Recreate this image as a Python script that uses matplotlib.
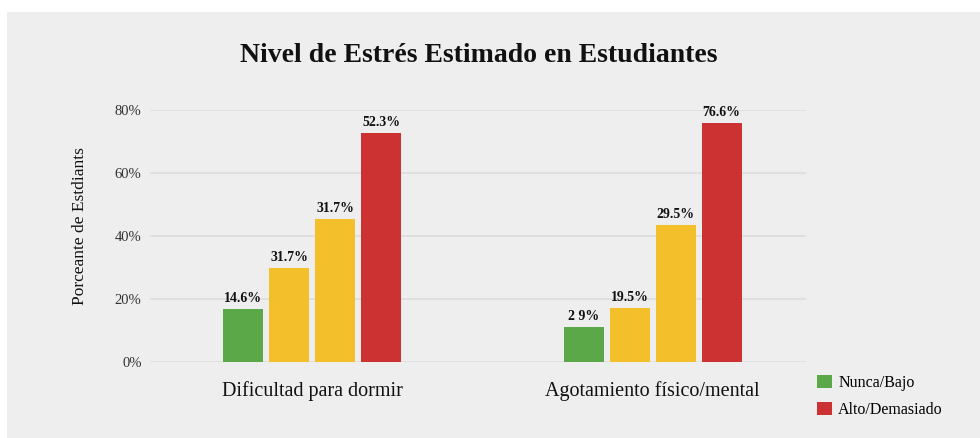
import numpy as np
import matplotlib.pyplot as plt
from matplotlib.patches import Rectangle, Patch

plt.rcParams['font.family'] = ['Liberation Serif', 'DejaVu Serif']

# data
groups = ['Dificultad para dormir', 'Agotamiento físico/mental']
heights = [
    [16.8, 29.8, 45.4, 72.7],
    [11.1, 17.1, 43.5, 75.9],
]
labels = [
    ['14.6%', '31.7%', '31.7%', '52.3%'],
    ['2 9%', '19.5%', '29.5%', '76.6%'],
]
bar_colors = ['#5aa847', '#f3bf2b', '#f3bf2b', '#cd3232']
yticks = [0, 20, 40, 60, 80]
legend_labels = ['Nunca/Bajo', 'Alto/Demasiado']

fig = plt.figure(figsize=(9.8, 4.38), dpi=100, facecolor='white')

# gray panel behind the chart, on its own axes at the back
bg = fig.add_axes([0, 0, 1, 1], zorder=-1)
bg.add_patch(Rectangle((0.007, 0), 0.993, 1 - 12 / 438, facecolor='#eeeeee', edgecolor='none'))
bg.set_xlim(0, 1)
bg.set_ylim(0, 1)
bg.axis('off')

ax = fig.add_axes([0.153, 0.1735, 0.669, 0.5755], zorder=1)
ax.set_facecolor('none')

step = 0.135
width = 0.1175
offsets = (np.arange(4) - 1.5) * step
for g, (hs, ls) in enumerate(zip(heights, labels)):
    x = g + offsets
    ax.bar(x, hs, width=width, color=bar_colors, zorder=3)
    for xi, h, lab in zip(x, hs, ls):
        ax.text(xi, h + 1.2, lab, ha='center', va='bottom', fontsize=10,
                fontweight='bold', color='#111111', clip_on=False)

ax.set_xlim(-0.477, 1.449)
ax.set_ylim(0, 80)
ax.set_yticks(yticks)
ax.set_yticklabels([f'{t}%' for t in yticks], fontsize=10.5, color='#333333')
ax.set_xticks([0, 1])
ax.set_xticklabels(groups, fontsize=14.5, color='#111111')
ax.tick_params(axis='y', length=0, pad=6)
ax.tick_params(axis='x', length=0, pad=14)
ax.grid(axis='y', color='#dcdcdc', linewidth=1.2, zorder=0)
for s in ax.spines.values():
    s.set_visible(False)

fig.text(0.082, 0.484, 'Porceante de Estdiants', rotation=90, ha='center', va='center',
         fontsize=12.5, color='#111111')

fig.text(0.489, 0.874, 'Nivel de Estrés Estimado en Estudiantes', ha='center', va='center',
         fontsize=20, fontweight='bold', color='#111111')

handles = [Patch(facecolor=bar_colors[0]), Patch(facecolor=bar_colors[3])]
fig.legend(handles, legend_labels, loc='upper left', bbox_to_anchor=(0.826, 0.162),
           frameon=False, fontsize=11.5, handlelength=0.9, handleheight=0.9,
           handletextpad=0.4, labelspacing=0.65, borderpad=0)

fig.savefig('out.png', dpi=100, facecolor=fig.get_facecolor())
